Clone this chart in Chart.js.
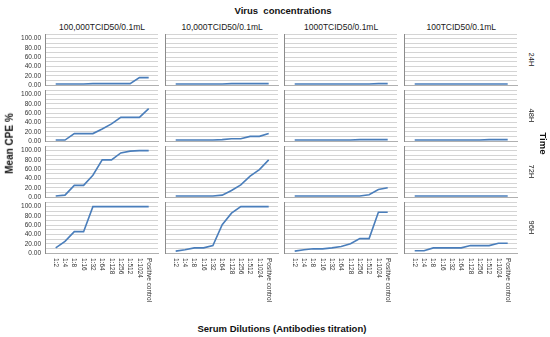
<!DOCTYPE html>
<html>
<head>
<meta charset="utf-8">
<script src="https://cdn.jsdelivr.net/npm/chart.js@4.4.1/dist/chart.umd.min.js"></script>
<style>
  body { margin: 0; width: 550px; height: 337px; position: relative; background: #fff; overflow: hidden;
         font-family: Arial, "Liberation Sans", sans-serif; }
  canvas { position: absolute; }
  .lbl { position: absolute; white-space: pre; color: #1a1a1a; transform-origin: center center; }
  .bold { font-weight: bold; color: #111; }
</style>
</head>
<body>
<div id="wrap"></div>
<script>
// x categories (serum dilutions)
const dilutions = ['1:2', '1:4', '1:8', '1:16', '1:32', '1:64', '1:128', '1:256', '1:512', '1:1024', 'Positive control'];
const concentrations = ['100,000TCID50/0.1mL', '10,000TCID50/0.1mL', '1000TCID50/0.1mL', '100TCID50/0.1mL'];
const times = ['24H', '48H', '72H', '96H'];
const yTickLabels = [0, 20, 40, 60, 80, 100];

// mean CPE % per concentration (same order as concentrations)
const cpe24h = [
  [2, 2, 2, 2, 3, 3, 3, 3, 3, 16, 16],
  [2, 2, 2, 2, 2, 2, 3, 3, 3, 3, 3],
  [2, 2, 2, 2, 2, 2, 2, 2, 2, 3, 3],
  [2, 2, 2, 2, 2, 2, 2, 2, 2, 2, 2]
];
const cpe48h = [
  [2, 2, 16, 16, 16, 26, 37, 51, 51, 51, 70],
  [2, 2, 2, 2, 2, 3, 5, 5, 10, 10, 16],
  [2, 2, 2, 2, 2, 2, 2, 3, 3, 3, 3],
  [2, 2, 2, 2, 2, 2, 2, 2, 3, 3, 3]
];
const cpe72h = [
  [2, 4, 25, 25, 47, 80, 80, 95, 99, 100, 100],
  [2, 2, 2, 2, 2, 4, 14, 26, 45, 59, 80],
  [2, 2, 2, 2, 2, 2, 2, 2, 5, 16, 20],
  [2, 2, 2, 2, 2, 2, 2, 2, 2, 2, 2]
];
const cpe96h = [
  [11, 25, 46, 46, 100, 100, 100, 100, 100, 100, 100],
  [4, 7, 11, 11, 16, 61, 86, 100, 100, 100, 100],
  [4, 7, 9, 9, 11, 14, 20, 31, 31, 88, 88],
  [5, 5, 11, 11, 11, 11, 16, 16, 16, 21, 21]
];
const rows = [cpe24h, cpe48h, cpe72h, cpe96h];

const wrap = document.getElementById('wrap');

function addText(txt, cx, cy, size, rot, cls) {
  const d = document.createElement('div');
  d.className = 'lbl' + (cls ? ' ' + cls : '');
  d.textContent = txt;
  d.style.fontSize = size + 'px';
  wrap.appendChild(d);
  const w = d.offsetWidth, h = d.offsetHeight;
  d.style.left = (cx - w / 2) + 'px';
  d.style.top = (cy - h / 2) + 'px';
  if (rot) d.style.transform = 'rotate(' + rot + 'deg)';
}

// rotated dilution labels under the bottom row (read top to bottom)
const dilutionLabels = {
  id: 'dilutionLabels',
  afterDraw(chart) {
    const ctx = chart.ctx, xs = chart.scales.x, area = chart.chartArea;
    ctx.save();
    ctx.font = '6.5px Arial, "Liberation Sans", sans-serif';
    ctx.fillStyle = '#333';
    ctx.textAlign = 'left';
    ctx.textBaseline = 'middle';
    dilutions.forEach((lab, i) => {
      ctx.save();
      ctx.translate(xs.getPixelForValue(i), area.bottom + 5);
      ctx.rotate(Math.PI / 2);
      ctx.fillText(lab, 0, 0);
      ctx.restore();
    });
    ctx.restore();
  }
};

const plotW = 113, plotH = 51;
rows.forEach((series, r) => {
  series.forEach((vals, c) => {
    const axisX = Math.round(45 + c * 119.5);
    const zeroY = Math.round(85.3 + r * 55.8);
    const padL = c === 0 ? 45 : 1;
    const padB = r === 3 ? 55 : 5;
    const cv = document.createElement('canvas');
    cv.width = padL + plotW + 2;
    cv.height = 2 + plotH + padB;
    cv.style.left = (axisX - padL) + 'px';
    cv.style.top = (zeroY - plotH - 2) + 'px';
    wrap.appendChild(cv);

    new Chart(cv.getContext('2d'), {
      type: 'line',
      data: {
        datasets: [{
          data: vals.map((v, i) => ({ x: i, y: v })),
          borderColor: '#4a7ebb',
          borderWidth: 1.6,
          pointRadius: 0,
          tension: 0,
          fill: false
        }]
      },
      options: {
        responsive: false,
        animation: false,
        devicePixelRatio: 1,
        layout: { padding: { left: 0, right: 2, top: 2, bottom: 0 } },
        plugins: { legend: { display: false }, tooltip: { enabled: false } },
        scales: {
          x: {
            type: 'linear',
            min: -1.15,
            max: 11,
            afterBuildTicks: s => { s.ticks = dilutions.map((d, i) => ({ value: i })); },
            afterFit: s => { s.height = padB; s.paddingLeft = 0; s.paddingRight = 0; },
            grid: { display: false },
            border: { display: true, color: '#b0b0b0', width: 1 },
            ticks: { display: false }
          },
          y: {
            min: 0,
            max: 110,
            afterBuildTicks: s => {
              const t = [];
              for (let v = 0; v <= 110; v += 10) t.push({ value: v });
              s.ticks = t;
            },
            afterFit: s => { s.width = padL; s.paddingTop = 0; s.paddingBottom = 0; },
            grid: { color: '#d4d4d4', lineWidth: 1, drawTicks: false },
            border: { display: true, color: '#8c8c8c', width: 1 },
            ticks: {
              display: c === 0,
              autoSkip: false,
              padding: 4,
              color: '#333',
              font: { size: 6.5, family: 'Arial, "Liberation Sans", sans-serif' },
              callback: v => yTickLabels.includes(v) ? v.toFixed(2) : ''
            }
          }
        }
      },
      plugins: r === 3 ? [dilutionLabels] : []
    });
  });
});

// titles and facet labels
addText('Virus  concentrations', 283, 10, 9.5, 0, 'bold');
concentrations.forEach((t, c) => addText(t, Math.round(45 + c * 119.5) + 57, 27, 8.5, 0));
times.forEach((t, r) => addText(t, 532, Math.round(85.3 + r * 55.8) - plotH / 2, 7.5, 90));
addText('Mean CPE %', 9, 143, 10, -90, 'bold');
addText('Time', 543, 143, 9.5, 90, 'bold');
addText('Serum Dilutions (Antibodies titration)', 282, 328, 9.5, 0, 'bold');
</script>
</body>
</html>
